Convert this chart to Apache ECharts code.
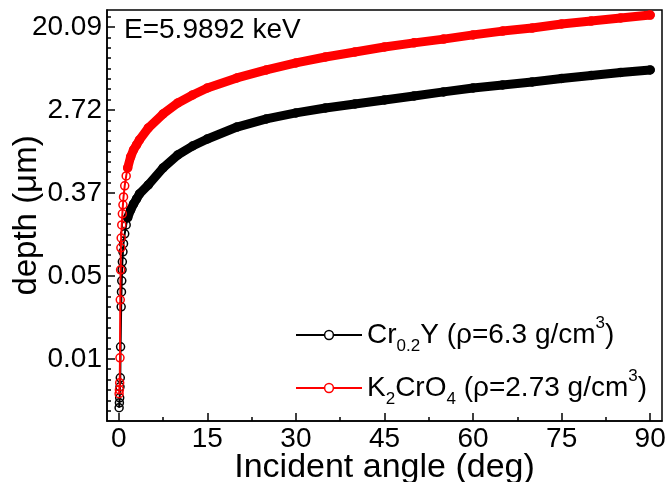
<!DOCTYPE html>
<html><head><meta charset="utf-8">
<script src="https://cdn.jsdelivr.net/npm/echarts@6/dist/echarts.min.js"></script>
<style>html,body{margin:0;padding:0;background:#fff}#c{width:667px;height:482px}</style>
</head><body><div id="c"></div>
<script>
// ---- data (angle in deg, depth in µm) ----
const anglesCr = [0.05,0.1,0.15,0.2,0.25,0.3,0.4,0.45,0.5,0.55,0.6,0.7,0.8,1.0,1.25,1.5,2,2.5,3,3.5,5,7.5,10,12.5,15,20,25,30,35,40,45,50,55,60,65,70,75,80,85,90];
const depthCr  = [0.00207,0.00233,0.00263,0.00343,0.00426,0.0090,0.0236,0.0338,0.0442,0.0576,0.0698,0.0888,0.108,0.137,0.170,0.202,0.244,0.282,0.318,0.359,0.446,0.672,0.919,1.14,1.35,1.80,2.19,2.53,2.85,3.14,3.46,3.81,4.20,4.62,4.96,5.34,5.81,6.24,6.71,7.13];
const anglesK  = [0.05,0.1,0.15,0.2,0.25,0.3,0.35,0.4,0.5,0.6,0.7,0.8,1.0,1.25,1.5,2,2.5,3,3.5,5,7.5,10,12.5,15,20,25,30,35,40,45,50,55,60,65,70,75,80,85,90];
const depthK   = [0.00290,0.00319,0.00378,0.00690,0.0279,0.0576,0.0978,0.124,0.170,0.222,0.276,0.334,0.436,0.554,0.672,0.876,1.04,1.17,1.32,1.76,2.47,3.22,3.90,4.62,5.88,7.13,8.44,9.75,11.0,12.4,13.7,15.0,16.6,18.2,19.6,21.6,23.2,25.0,26.8];
const xTickValues = [0,15,30,45,60,75,90];
const xMinorValues = [7.5,22.5,37.5,52.5,67.5,82.5];
const yLabelExponents = [-5,-3,-1,1,3];   // ticks at e^n, labelled with 2 decimals
const nameCr = 'Cr0.2Y';
const nameK = 'K2CrO4';
const annotation = 'E=5.9892 keV';

const FONT = "Arial, 'Liberation Sans', sans-serif";
const yMajor = yLabelExponents.map(Math.exp);
const yMinor = [];
for (let q = -26; q <= 13; q++) { if (!yLabelExponents.includes(q / 4)) yMinor.push(Math.exp(q / 4)); }

const pairs = (a, d) => a.map((v, i) => [v, d[i]]);
const cr = pairs(anglesCr, depthCr);
const k = pairs(anglesK, depthK);
const bandStart = 1.5;

function pointSeries(name, data, color, z) {
  return {
    name, type: 'line', data, z,
    symbol: 'circle', symbolSize: 8,
    itemStyle: { color: 'rgba(0,0,0,0)', borderColor: color, borderWidth: 1.5 },
    lineStyle: { color, width: 2 },
    emphasis: { disabled: true }, animation: false
  };
}
function bandSeries(name, data, color, z) {
  return {
    name, type: 'line', data: data.filter(p => p[0] >= bandStart), z,
    symbol: 'none',
    lineStyle: { color, width: 9, cap: 'round', join: 'round' },
    emphasis: { disabled: true }, silent: true, animation: false
  };
}

const chart = echarts.init(document.getElementById('c'), null, { renderer: 'canvas' });
chart.setOption({
  backgroundColor: '#fff',
  animation: false,
  grid: { left: 107, right: 5, top: 10, bottom: 61, containLabel: false, outerBoundsMode: 'none',
          show: true, borderColor: '#000', borderWidth: 1.5 },
  xAxis: [{
    type: 'value', min: -2, max: 92,
    axisLine: { show: true, onZero: false, lineStyle: { color: '#000', width: 1.5 } },
    axisTick: { show: true, inside: true, length: 8, customValues: xTickValues, lineStyle: { color: '#000', width: 1.5 } },
    axisLabel: { customValues: xTickValues, fontSize: 28, color: '#000', fontFamily: FONT, margin: 4 },
    splitLine: { show: false },
    name: 'Incident angle (deg)', nameLocation: 'middle', nameGap: 30, nameMoveOverlap: false,
    nameTextStyle: { fontSize: 34, color: '#000', fontFamily: FONT }
  }, {
    type: 'value', min: -2, max: 92, position: 'bottom',
    axisLine: { show: false, onZero: false },
    axisTick: { show: true, inside: true, length: 4, customValues: xMinorValues, lineStyle: { color: '#000', width: 1.5 } },
    axisLabel: { show: false }, splitLine: { show: false }
  }],
  yAxis: [{
    type: 'log', logBase: Math.E, min: Math.exp(-6.5), max: Math.exp(3.41),
    axisLine: { show: true, onZero: false, lineStyle: { color: '#000', width: 1.5 } },
    axisTick: { show: true, inside: true, length: 8, customValues: yMajor, lineStyle: { color: '#000', width: 1.5 } },
    axisLabel: { customValues: yMajor, formatter: v => Number(v).toFixed(2), fontSize: 28, color: '#000', fontFamily: FONT, margin: 5 },
    splitLine: { show: false },
    name: 'depth (μm)', nameLocation: 'middle', nameGap: 64, nameMoveOverlap: false,
    nameTextStyle: { fontSize: 33, color: '#000', fontFamily: FONT }
  }, {
    type: 'log', logBase: Math.E, min: Math.exp(-6.5), max: Math.exp(3.41), position: 'left',
    axisLine: { show: false, onZero: false },
    axisTick: { show: true, inside: true, length: 4, customValues: yMinor, lineStyle: { color: '#000', width: 1.5 } },
    axisLabel: { show: false }, splitLine: { show: false }
  }],
  legend: {
    orient: 'vertical', left: 290, top: 310, itemWidth: 66, itemHeight: 11, itemGap: 13,
    selectedMode: false,
    data: [
      { name: nameCr, itemStyle: { color: '#fff', borderColor: '#000', borderWidth: 1.5 } },
      { name: nameK, itemStyle: { color: '#fff', borderColor: '#f00', borderWidth: 1.5 } }
    ],
    formatter: n => n === nameCr
      ? '{n|Cr}{b|0.2}{n|Y (ρ=6.3 g/cm}{p|3}{n|)}'
      : '{n|K}{b|2}{n|CrO}{b|4}{n| (ρ=2.73 g/cm}{p|3}{n|)}',
    textStyle: {
      color: '#000', fontSize: 28, fontFamily: FONT, lineHeight: 40,
      rich: {
        n: { fontSize: 28, lineHeight: 40, fontFamily: FONT, color: '#000' },
        b: { fontSize: 17, lineHeight: 16, verticalAlign: 'bottom', fontFamily: FONT, color: '#000' },
        p: { fontSize: 17, lineHeight: 16, verticalAlign: 'top', fontFamily: FONT, color: '#000' }
      }
    }
  },
  graphic: [{
    type: 'text', left: 124, top: 16, z: 100,
    style: { text: annotation, fontSize: 28, fontFamily: FONT, fill: '#000' }
  }],
  series: [
    pointSeries(nameCr, cr, '#000', 3),
    bandSeries('bandCr', cr, '#000', 4),
    pointSeries(nameK, k, '#f00', 5),
    bandSeries('bandK', k, '#f00', 6)
  ]
});
</script></body></html>
